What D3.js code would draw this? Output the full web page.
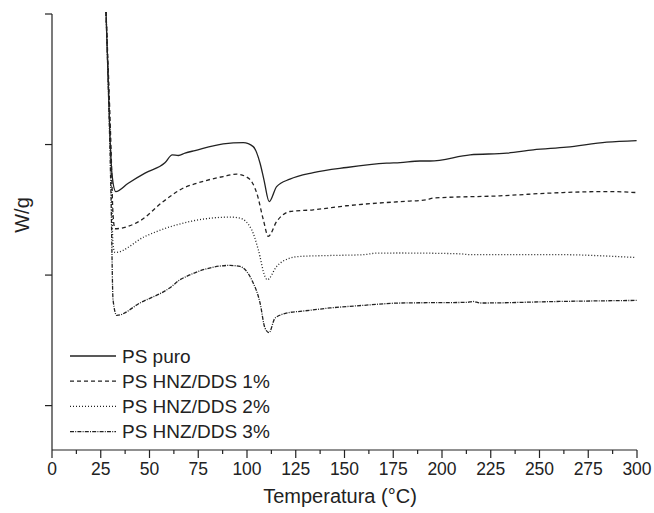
<!DOCTYPE html>
<html><head><meta charset="utf-8">
<script src="https://cdn.jsdelivr.net/npm/d3@7"></script>
<style>body{margin:0;background:#fff}svg{display:block}text{font-family:"Liberation Sans",Arial,sans-serif;fill:#222}</style>
</head><body>
<svg id="c" width="654" height="513"></svg>
<script>
const seriesNames = ["PS puro","PS HNZ/DDS 1%","PS HNZ/DDS 2%","PS HNZ/DDS 3%"];
const xTicks = [0,25,50,75,100,125,150,175,200,225,250,275,300];
const yTicks = [0,1,2,3];
const psPuro = [[27.7,3.015],[29.7,2.074],[30.8,1.768],[32.7,1.64],[39.1,1.704],[47.7,1.781],[57.9,1.86],[61.7,1.921],[64.8,1.916],[68.2,1.934],[73.3,1.954],[87.8,2.005],[98.1,2.015],[103.2,1.984],[106.7,1.857],[108.7,1.73],[111.4,1.563],[115.2,1.678],[122,1.735],[134,1.785],[151.1,1.824],[171.6,1.857],[178.5,1.862],[188.7,1.874],[193.8,1.874],[214.4,1.921],[233.2,1.934],[246.8,1.959],[263.9,1.98],[284.5,2.018],[299.8,2.03]];
const ps1 = [[27.7,3.015],[30.3,1.959],[31.3,1.462],[32.3,1.355],[45.1,1.415],[57.1,1.564],[68.4,1.674],[71.6,1.691],[87.8,1.755],[94.7,1.773],[100.7,1.743],[105,1.628],[108.4,1.423],[110.9,1.296],[115.2,1.41],[122,1.487],[134,1.5],[151.1,1.531],[178.5,1.563],[192.2,1.577],[195.5,1.59],[229.7,1.607],[255.4,1.628],[284.5,1.64],[299.8,1.632]];
const ps2 = [[27.7,3.015],[30.3,1.806],[31.3,1.232],[32.3,1.173],[47.7,1.296],[73.3,1.418],[91.3,1.444],[96.4,1.436],[102.4,1.347],[105.8,1.194],[109.2,0.99],[110.4,0.964],[115.2,1.066],[122,1.13],[127.2,1.143],[142.6,1.15],[159.6,1.156],[166.5,1.168],[178.5,1.169],[209.2,1.163],[214.4,1.156],[263.9,1.156],[281,1.148],[299,1.135]];
const ps3 = [[27.7,3.015],[30.3,1.577],[31.3,0.811],[33.2,0.691],[45.1,0.786],[61.4,0.913],[65.6,0.964],[69.0,0.99],[91.3,1.074],[96.4,1.066],[102.4,0.964],[106.7,0.786],[109.2,0.595],[111.3,0.559],[114.4,0.671],[122,0.714],[127.2,0.722],[142.6,0.748],[159.6,0.768],[178.5,0.786],[212.7,0.791],[216,0.798],[219.5,0.786],[260.5,0.798],[299.8,0.806]];
const seriesData = [psPuro, ps1, ps2, ps3];
const dashes = [null, "4,3", "1,2", "4,1.2,1,1.2"];

const svg = d3.select("#c");
const x = d3.scaleLinear().domain([0,300]).range([52,637]);
const y = d3.scaleLinear().domain([-0.34,3]).range([450,14]);

// x axis
const xg = svg.append("g").attr("transform","translate(0,450)");
xg.append("line").attr("x1",52).attr("x2",637).attr("stroke","#222").attr("stroke-width",1.2);
const minor = d3.range(0,301,12.5);
xg.selectAll(".mt").data(minor).join("line").attr("x1",d=>x(d)).attr("x2",d=>x(d)).attr("y1",0).attr("y2",d=>d%25===0?8:4).attr("stroke","#222").attr("stroke-width",1.2);
xg.selectAll(".tl").data(xTicks).join("text").attr("x",d=>x(d)).attr("y",25).attr("text-anchor","middle").attr("font-size",17.5).text(d=>d);
// y axis
const yg = svg.append("g");
yg.append("line").attr("x1",52).attr("x2",52).attr("y1",14).attr("y2",450).attr("stroke","#222").attr("stroke-width",1.2);
yg.selectAll(".yt").data(yTicks).join("line").attr("x1",45).attr("x2",52).attr("y1",d=>y(d)).attr("y2",d=>y(d)).attr("stroke","#222").attr("stroke-width",1.2);

svg.append("text").attr("x",340).attr("y",503).attr("text-anchor","middle").attr("font-size",20).text("Temperatura (°C)");
svg.append("text").attr("transform","translate(29,215) rotate(-90)").attr("text-anchor","middle").attr("font-size",20).text("W/g");

const line = d3.line().x(d=>x(d[0])).y(d=>y(d[1])).curve(d3.curveMonotoneX);
seriesData.forEach((s,i)=>{
  svg.append("path").datum(s).attr("d",line).attr("fill","none").attr("stroke","#222").attr("stroke-width",1.3).attr("stroke-dasharray",dashes[i]);
});

// legend
const lg = svg.append("g");
seriesNames.forEach((n,i)=>{
  const yy = 356 + i*25.2;
  lg.append("line").attr("x1",70).attr("x2",116).attr("y1",yy).attr("y2",yy).attr("stroke","#222").attr("stroke-width",1.3).attr("stroke-dasharray",dashes[i]);
  lg.append("text").attr("x",122).attr("y",yy+6.5).attr("font-size",19).text(n);
});
</script>
</body></html>
